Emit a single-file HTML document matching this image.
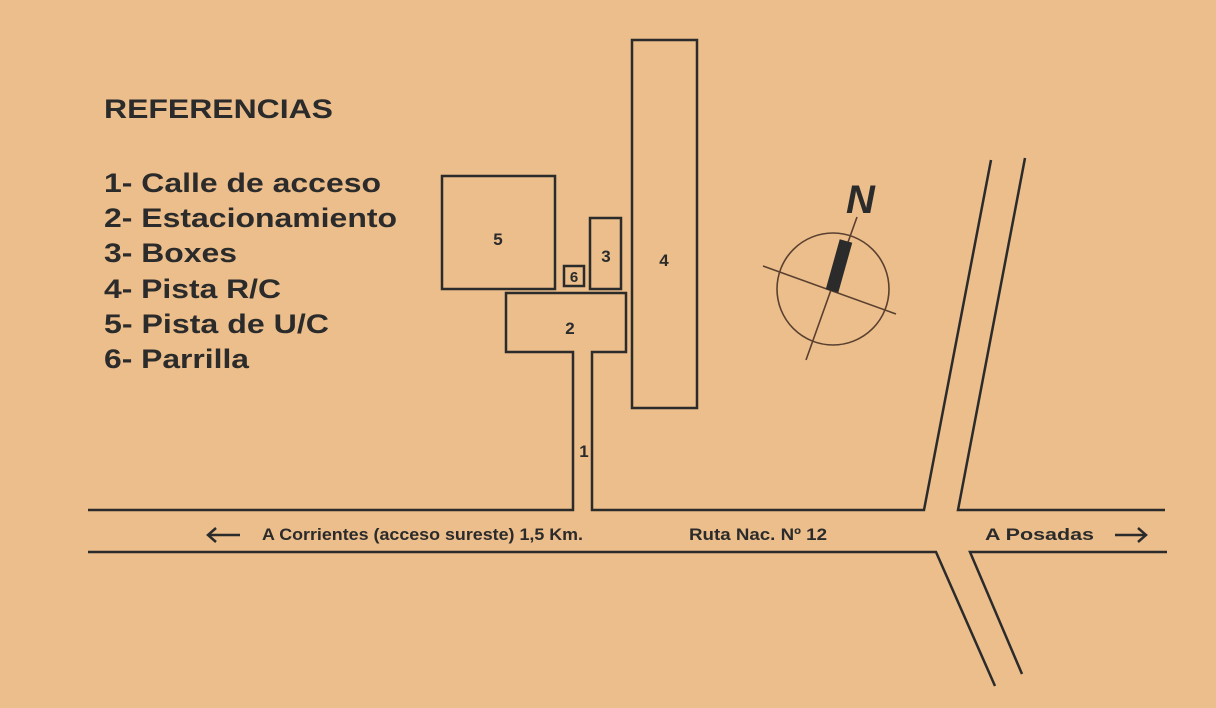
<!DOCTYPE html>
<html><head><meta charset="utf-8"><style>
html,body{margin:0;padding:0;background:#ebbe8b;}
svg{display:block;}
text{font-family:"Liberation Sans",Arial,sans-serif;font-weight:bold;fill:#2b2b2b;}
</style></head><body>
<svg width="1216" height="708" viewBox="0 0 1216 708" xmlns="http://www.w3.org/2000/svg">
<rect width="1216" height="708" fill="#ebbe8b"/>
<g fill="none" stroke="#2b2b2b" stroke-width="2.5">
<rect x="442" y="176" width="113" height="113"/>
<rect x="590" y="218" width="31" height="71"/>
<rect x="564" y="266" width="20" height="20"/>
<rect x="632" y="40" width="65" height="368"/>
<polyline points="88,510 573,510 573,352 506,352 506,293 626,293 626,352 592,352 592,510 924,510 991,160"/>
<polyline points="1025,158 958,510 1165,510"/>
<polyline points="88,552 936,552 995,686"/>
<polyline points="1022,674 970,552 1167,552"/>
<line x1="208" y1="535" x2="240" y2="535"/>
<polyline points="216,528 208,535 216,542"/>
<line x1="1115" y1="535" x2="1146" y2="535"/>
<polyline points="1138,528 1146,535 1138,542"/>
</g>
<g fill="none" stroke="#5a4030" stroke-width="1.6">
<circle cx="833" cy="289" r="56"/>
<line x1="763" y1="266" x2="896" y2="314"/>
<line x1="857" y1="217" x2="806" y2="360"/>
</g>
<line x1="846" y1="241" x2="832" y2="291" stroke="#2b2b2b" stroke-width="13"/>
<text x="846" y="213" font-size="40" font-style="italic">N</text>
<text x="104" y="118" font-size="27" textLength="229" lengthAdjust="spacingAndGlyphs">REFERENCIAS</text>
<g font-size="27">
<text x="104" y="192" textLength="277" lengthAdjust="spacingAndGlyphs">1- Calle de acceso</text>
<text x="104" y="227" textLength="293" lengthAdjust="spacingAndGlyphs">2- Estacionamiento</text>
<text x="104" y="262" textLength="133" lengthAdjust="spacingAndGlyphs">3- Boxes</text>
<text x="104" y="298" textLength="177" lengthAdjust="spacingAndGlyphs">4- Pista R/C</text>
<text x="104" y="333" textLength="225" lengthAdjust="spacingAndGlyphs">5- Pista de U/C</text>
<text x="104" y="368" textLength="145" lengthAdjust="spacingAndGlyphs">6- Parrilla</text>
</g>
<g font-size="17">
<text x="498" y="245" text-anchor="middle">5</text>
<text x="606" y="262" text-anchor="middle">3</text>
<text x="664" y="266" text-anchor="middle">4</text>
<text x="570" y="334" text-anchor="middle">2</text>
<text x="584" y="457" text-anchor="middle">1</text>
<text x="574" y="282" text-anchor="middle" font-size="15">6</text>
</g>
<g font-size="17">
<text x="262" y="540" textLength="321" lengthAdjust="spacingAndGlyphs">A Corrientes (acceso sureste) 1,5 Km.</text>
<text x="689" y="540" textLength="138" lengthAdjust="spacingAndGlyphs">Ruta Nac. Nº 12</text>
<text x="985" y="540" textLength="109" lengthAdjust="spacingAndGlyphs">A Posadas</text>
</g>
</svg>
</body></html>
